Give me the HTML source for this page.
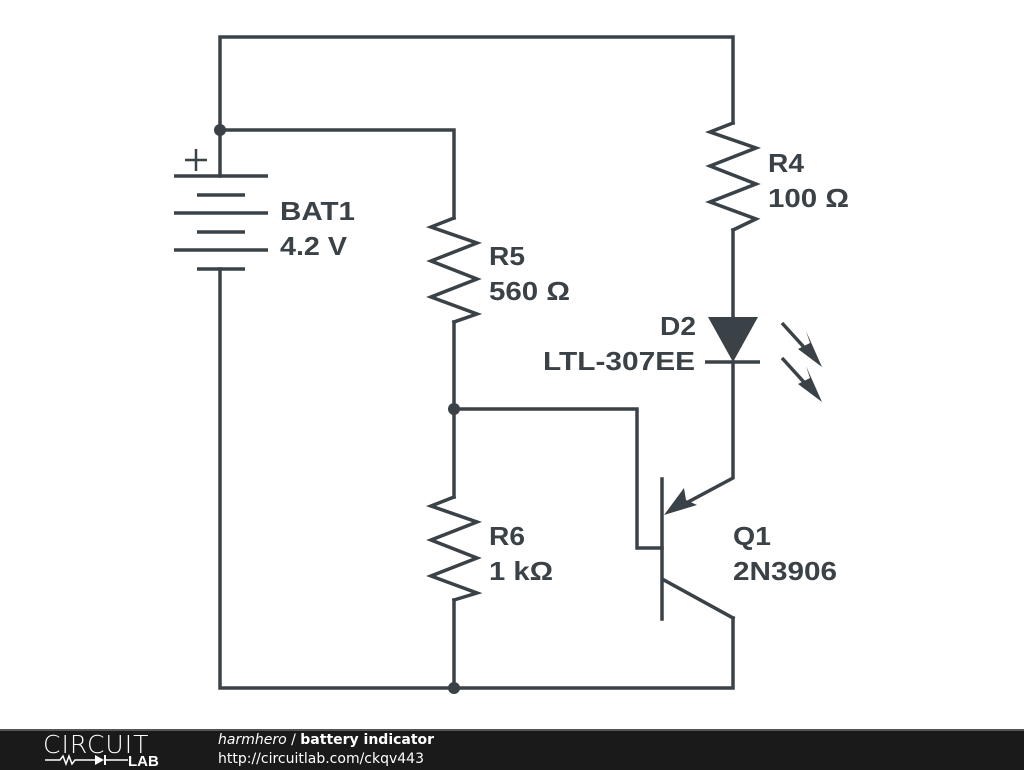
<!DOCTYPE html>
<html><head><style>
body{margin:0;width:1024px;height:768px;background:#fff;overflow:hidden;font-family:"Liberation Sans",sans-serif}
.bar{position:absolute;left:0;top:729px;width:1024px;height:39px;background:#1a1a1a;border-top:2px solid #555}
</style></head><body>
<svg width="1024" height="730" style="position:absolute;left:0;top:0">
<g stroke="#3a4247" stroke-width="3.5" fill="none" stroke-linecap="square" stroke-linejoin="miter">
<polyline points="220,176 220,37 733,37 733,123"/>
<polyline points="220,130 454,130 454,218"/>
<polyline points="220,269 220,688 733,688 733,618"/>
<polyline points="454,322 454,497"/>
<polyline points="454,600 454,688"/>
<polyline points="454,409 637,409 637,548 662,548"/>
<polyline points="733,230 733,317"/>
<polyline points="733,362 733,478 675,509"/>
<polyline points="664,580 733,618"/>
<line x1="662" y1="479" x2="662" y2="619"/>
<g stroke-linecap="butt">
<line x1="174" y1="176" x2="268" y2="176"/><line x1="197" y1="195" x2="245" y2="195"/>
<line x1="174" y1="213" x2="268" y2="213"/><line x1="197" y1="232" x2="245" y2="232"/>
<line x1="174" y1="250" x2="268" y2="250"/><line x1="197" y1="269" x2="245" y2="269"/>
<line x1="185" y1="160" x2="207" y2="160" stroke-width="2.5"/><line x1="196" y1="149" x2="196" y2="171" stroke-width="2.5"/>
<line x1="705" y1="362" x2="760" y2="362"/>
<line x1="782" y1="323" x2="812" y2="356"/><line x1="782" y1="358" x2="812" y2="391"/>
</g>
<polyline points="454,218 431,227 477,243 431,261 477,279 431,297 477,314 454,322"/>
<polyline points="454,497 431,506 477,522 431,540 477,558 431,576 477,593 454,600"/>
<polyline points="733,123 710,132 756,148 710,166 756,184 710,202 756,219 733,230"/>
</g>
<g fill="#3a4247">
<circle cx="220" cy="130" r="6"/><circle cx="454" cy="409" r="6"/><circle cx="454" cy="688" r="6"/>
<polygon points="708,317 758,317 733,362"/>
<polygon points="822,367 798,349 810,343 806,331"/>
<polygon points="822,402 798,384 810,378 806,366"/>
<polygon points="664,515 684,488 686,500 697,505"/>
</g>
<g font-family="Liberation Sans,sans-serif" font-weight="bold" font-size="26" fill="#3a4247" lengthAdjust="spacingAndGlyphs">
<text x="280" y="220" textLength="75" lengthAdjust="spacingAndGlyphs">BAT1</text><text x="280" y="255" textLength="67" lengthAdjust="spacingAndGlyphs">4.2 V</text>
<text x="768" y="172" textLength="36" lengthAdjust="spacingAndGlyphs">R4</text><text x="768" y="207" textLength="81" lengthAdjust="spacingAndGlyphs">100 Ω</text>
<text x="489" y="265" textLength="36" lengthAdjust="spacingAndGlyphs">R5</text><text x="489" y="300" textLength="81" lengthAdjust="spacingAndGlyphs">560 Ω</text>
<text x="489" y="545" textLength="36" lengthAdjust="spacingAndGlyphs">R6</text><text x="489" y="580" textLength="64" lengthAdjust="spacingAndGlyphs">1 kΩ</text>
<text x="660" y="335" textLength="36" lengthAdjust="spacingAndGlyphs">D2</text><text x="543" y="370" textLength="152" lengthAdjust="spacingAndGlyphs">LTL-307EE</text>
<text x="733" y="545" textLength="38" lengthAdjust="spacingAndGlyphs">Q1</text><text x="733" y="580" textLength="104" lengthAdjust="spacingAndGlyphs">2N3906</text>
</g>
</svg>
<div class="bar"></div>
<svg width="1024" height="40" style="position:absolute;left:0;top:728px">
<text x="43" y="25" font-family="DejaVu Sans,sans-serif" font-size="25" fill="#fff" font-weight="200" letter-spacing="1">CIRCUIT</text>
<polyline points="45,32 60,32 63,28 66,36 69,28 72,36 75,32 95,32" stroke="#fff" stroke-width="1.5" fill="none"/>
<polygon points="95,27 95,37 104,32" fill="#fff"/><line x1="105" y1="27" x2="105" y2="37" stroke="#fff" stroke-width="2"/>
<line x1="105" y1="32" x2="128" y2="32" stroke="#fff" stroke-width="1.5"/>
<text x="128" y="38" font-family="Liberation Sans,sans-serif" font-weight="bold" font-size="15" fill="#fff">LAB</text>
<text x="218" y="16" font-family="DejaVu Sans,sans-serif" font-size="14" fill="#fff"><tspan font-style="italic">harmhero</tspan> / <tspan font-weight="bold">battery indicator</tspan></text>
<text x="218" y="35" font-family="DejaVu Sans,sans-serif" font-size="14" fill="#fff">http://circuitlab.com/ckqv443</text>
</svg>
</body></html>
